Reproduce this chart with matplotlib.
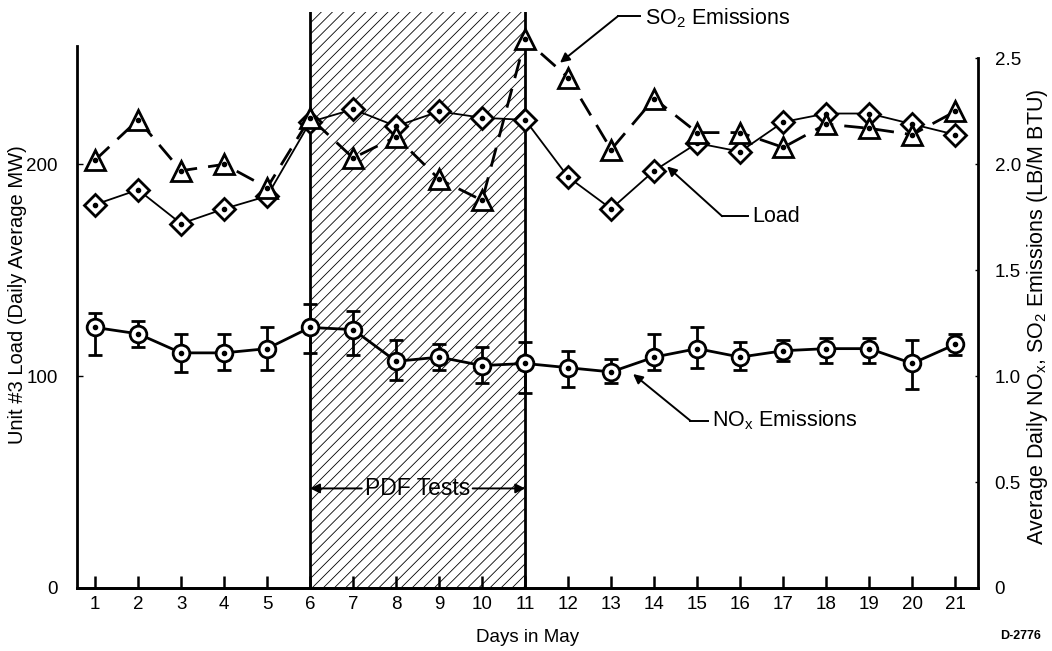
import matplotlib
matplotlib.use("Agg")
from matplotlib import pyplot as plt

plt.rcParams["font.family"] = ["Liberation Sans", "DejaVu Sans"]
plt.rcParams["hatch.linewidth"] = 0.6

# data
days = list(range(1, 22))
load_mw = [181, 188, 172, 179, 185, 220, 226, 218, 225, 222, 221,
           194, 179, 197, 210, 206, 220, 224, 224, 219, 214]
so2 = [2.02, 2.21, 1.97, 2.00, 1.89, 2.22, 2.03, 2.13, 1.93, 1.83, 2.59,
       2.41, 2.07, 2.31, 2.15, 2.15, 2.08, 2.19, 2.17, 2.14, 2.25]
nox = [1.23, 1.20, 1.11, 1.11, 1.13, 1.23, 1.22, 1.07, 1.09, 1.05, 1.06,
       1.04, 1.02, 1.09, 1.13, 1.09, 1.12, 1.13, 1.13, 1.06, 1.15]
nox_hi = [1.30, 1.26, 1.20, 1.20, 1.23, 1.34, 1.31, 1.17, 1.15, 1.14, 1.16,
          1.12, 1.08, 1.20, 1.23, 1.16, 1.17, 1.18, 1.18, 1.17, 1.20]
nox_lo = [1.10, 1.14, 1.02, 1.03, 1.03, 1.11, 1.10, 0.98, 1.03, 0.97, 0.92,
          0.95, 0.97, 1.03, 1.04, 1.03, 1.07, 1.06, 1.06, 0.94, 1.10]
pdf_start, pdf_end = 6, 11

fig = plt.figure(figsize=(10.52, 6.51), dpi=100)
ax = fig.add_axes([0.0732, 0.0968, 0.8565, 0.885])
ax2 = ax.twinx()

ax.set_xlim(0.58, 21.53)
ax.set_ylim(0, 272)
ax2.set_ylim(0, 2.72)

# PDF test period
ax.axvspan(pdf_start, pdf_end, facecolor="white", edgecolor="black", hatch="///", lw=0, zorder=0)
for d in (pdf_start, pdf_end):
    ax.axvline(d, color="black", lw=2, zorder=1)

# load
ax.plot(days, load_mw, color="black", lw=1.3, marker="D", markersize=11,
        markerfacecolor="white", markeredgecolor="black", markeredgewidth=2, zorder=3)
ax.plot(days, load_mw, ls="none", marker="o", markersize=3, color="black", zorder=4)

# SO2
ax2.plot(days, so2, color="black", lw=2, ls=(0, (7, 4)), marker="^", markersize=14,
         markerfacecolor="white", markeredgecolor="black", markeredgewidth=2, zorder=3)
ax2.plot(days, so2, ls="none", marker="o", markersize=3, color="black", zorder=4)

# NOx with error bars
err = [[n - lo for n, lo in zip(nox, nox_lo)], [hi - n for n, hi in zip(nox, nox_hi)]]
ax2.errorbar(days, nox, yerr=err, color="black", lw=2, elinewidth=2, capsize=5, capthick=2,
             marker="o", markersize=12, markerfacecolor="white", markeredgecolor="black",
             markeredgewidth=2, zorder=3)
ax2.plot(days, nox, ls="none", marker="o", markersize=3, color="black", zorder=4)

# spines
for a in (ax, ax2):
    a.spines["top"].set_visible(False)
    for s in a.spines.values():
        s.set_linewidth(2)
ax.spines["right"].set_visible(False)
ax2.spines["left"].set_visible(False)
ax.spines["left"].set_bounds(0, 256)
ax2.spines["right"].set_bounds(0, 2.5)

ax.set_xticks(days)
ax.tick_params(axis="x", direction="in", length=9, width=1.8, labelsize=13.5, pad=6)
ax.set_yticks([0, 100, 200])
ax.set_yticklabels(["0", "100", "200"])
ax.tick_params(axis="y", direction="in", length=4, width=1, labelsize=13.5, pad=14)
ax2.set_yticks([0, 0.5, 1.0, 1.5, 2.0, 2.5])
ax2.set_yticklabels(["0", "0.5", "1.0", "1.5", "2.0", "2.5"])
ax2.tick_params(axis="y", direction="in", length=2, width=1, labelsize=13.5, pad=12)

ax.set_xlabel("Days in May", fontsize=13.5, labelpad=11)
ax.set_ylabel("Unit #3 Load (Daily Average MW)", fontsize=14.5)
ax.yaxis.set_label_coords(-0.055, 0.51)
ax2.set_ylabel("Average Daily NO$_\\mathregular{x}$, SO$_\\mathregular{2}$ Emissions (LB/M BTU)",
               fontsize=15.5)
ax2.yaxis.set_label_coords(1.052, 0.47)

# annotations
arrow = dict(arrowstyle="-|>", color="black", lw=1.4, mutation_scale=14, shrinkA=0, shrinkB=0)
ax2.plot([13.16, 13.67], [2.70, 2.70], color="black", lw=1.4, clip_on=False)
ax2.annotate("", xy=(11.81, 2.48), xytext=(13.16, 2.70), arrowprops=arrow, annotation_clip=False)
ax2.text(13.79, 2.69, "SO$_\\mathregular{2}$ Emissions", fontsize=15.5, va="center", ha="left")

ax2.plot([15.58, 16.19], [1.755, 1.755], color="black", lw=1.4)
ax2.annotate("", xy=(14.30, 1.99), xytext=(15.58, 1.755), arrowprops=arrow)
ax2.text(16.28, 1.755, "Load", fontsize=15.5, va="center", ha="left")

ax2.plot([14.84, 15.26], [0.79, 0.79], color="black", lw=1.4)
ax2.annotate("", xy=(13.51, 1.01), xytext=(14.84, 0.79), arrowprops=arrow)
ax2.text(15.35, 0.79, "NO$_\\mathregular{x}$ Emissions", fontsize=15.5, va="center", ha="left")

# PDF test arrows
ax2.annotate("", xy=(pdf_start, 0.47), xytext=(7.2, 0.47), arrowprops=arrow)
ax2.annotate("", xy=(pdf_end, 0.47), xytext=(9.78, 0.47), arrowprops=arrow)
ax2.text((pdf_start + pdf_end) / 2, 0.47, "PDF Tests", fontsize=16.5, va="center", ha="center")

fig.text(0.97, 0.023, "D-2776", fontsize=9, fontweight="bold", ha="center", va="center")

fig.savefig("out.png", dpi=100)
